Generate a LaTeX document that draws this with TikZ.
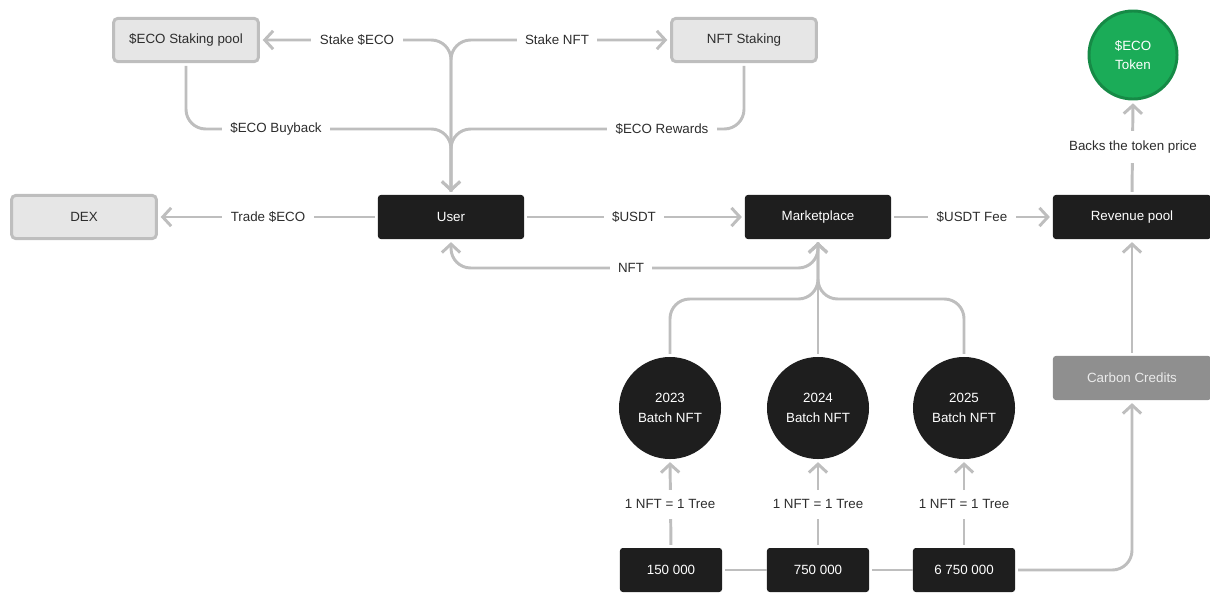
\documentclass[tikz,border=0pt]{standalone}
\usepackage{fontspec}
\setmainfont{Liberation Sans}
\usetikzlibrary{shapes,arrows.meta}
\definecolor{linegray}{RGB}{190,190,190}
\definecolor{boxdark}{RGB}{30,30,30}
\definecolor{boxlight}{RGB}{230,230,230}
\definecolor{boxmid}{RGB}{143,143,143}
\definecolor{tokgreen}{RGB}{27,172,88}
\definecolor{tokedge}{RGB}{22,138,70}
\definecolor{labtext}{RGB}{45,45,45}

\begin{document}
\begin{tikzpicture}[x=0.025cm,y=-0.025cm,font=\fontsize{9.5}{12}\selectfont,
  flow/.style={draw=linegray,line width=2.1pt,rounded corners=14pt,shorten <=2pt},
  go/.style={flow,shorten >=2pt,-{Straight Barb[length=6pt,width=13pt]}},
  darkbox/.style={rectangle,rounded corners=2pt,fill=boxdark,text=white,minimum width=3.65cm,minimum height=1.1cm},
  lightbox/.style={rectangle,rounded corners=3pt,draw=linegray,line width=2.1pt,fill=boxlight,text=labtext,minimum width=3.62cm,minimum height=1.08cm},
  batch/.style={circle,fill=boxdark,text=white,minimum size=2.55cm,align=center},
  amount/.style={darkbox,minimum width=2.55cm},
  lab/.style={fill=white,text=labtext,inner xsep=6pt,inner ysep=4pt}]
  \useasboundingbox (0,0) rectangle (1210,592);

  % boxes
  \node[lightbox] (pool) at (186,40) {\$ECO Staking pool};
  \node[lightbox] (nftstake) at (744,40) {NFT Staking};
  \node[lightbox] (dex) at (84,217) {DEX};
  \node[darkbox] (user) at (451,217) {User};
  \node[darkbox] (market) at (818,217) {Marketplace};
  \node[darkbox,minimum width=3.95cm] (revenue) at (1132,217) {Revenue pool};
  \node[darkbox,minimum width=3.95cm,fill=boxmid,text=white!92!black] (carbon) at (1132,378) {Carbon Credits};
  \node[circle,fill=tokgreen,draw=tokedge,line width=2.1pt,text=white,minimum size=2.2cm,align=center]
    (token) at (1133,55) {\$ECO\\[2pt]Token};

  % batches
  \node[batch] (batchA) at (670,408) {2023\\[2pt]Batch NFT};
  \node[batch] (batchB) at (818,408) {2024\\[2pt]Batch NFT};
  \node[batch] (batchC) at (964,408) {2025\\[2pt]Batch NFT};
  \node[amount] (treesA) at (671,570) {150 000};
  \node[amount] (treesB) at (818,570) {750 000};
  \node[amount] (treesC) at (964,570) {6 750 000};

  \coordinate (buyjoin) at (451,129);
  \coordinate (nftturn) at (818,268);
  \coordinate (batchjoin) at (818,299);

  % connectors
  \draw[go] (user.north) |- (pool.east);
  \draw[go] (user.north) |- (nftstake.west);
  \draw[go] (pool.south) |- (buyjoin) -- (user.north);
  \draw[go] (nftstake.south) |- (buyjoin) -- (user.north);
  \draw[go] (user.west) -- (dex.east);
  \draw[go] (user.east) -- (market.west);
  \draw[go] (market.east) -- (revenue.west);
  \draw[go] (market.south) -- (nftturn) -| (user.south);
  \draw[go] (batchA.north) |- (batchjoin) -- (market.south);
  \draw[go] (batchB.north) -- (market.south);
  \draw[go] (batchC.north) |- (batchjoin) -- (market.south);
  \foreach \t/\b in {treesA/batchA,treesB/batchB,treesC/batchC}
    \draw[go] (\t.north) -- (\b.south);
  \draw[flow] (treesA.east) -- (treesB.west);
  \draw[flow] (treesB.east) -- (treesC.west);
  \draw[go] (treesC.east) -| (carbon.south);
  \draw[go] (carbon.north) -- (revenue.south);
  \draw[go] (revenue.north) -- (token.south);

  % labels
  \node[lab] (lstake) at (357,40) {Stake \$ECO};
  \node[lab] (lstakenft) at (557,40) {Stake NFT};
  \node[lab] (lbuy) at (276,129) {\$ECO Buyback};
  \node[lab] (lreward) at (662,129) {\$ECO Rewards};
  \node[lab] (ltrade) at (268,217) {Trade \$ECO};
  \node[lab] (lusdt) at (634,217) {\$USDT};
  \node[lab] (lfee) at (972,217) {\$USDT Fee};
  \node[lab] (lnft) at (631,268) {NFT};
  \foreach \x/\n in {670/A,818/B,964/C}
    \node[lab,inner ysep=7pt] (ltree\n) at (\x,504) {1 NFT = 1 Tree};
  \node[lab,inner ysep=7pt] (lbacks) at (1133,147) {Backs the token price};
\end{tikzpicture}
\end{document}
